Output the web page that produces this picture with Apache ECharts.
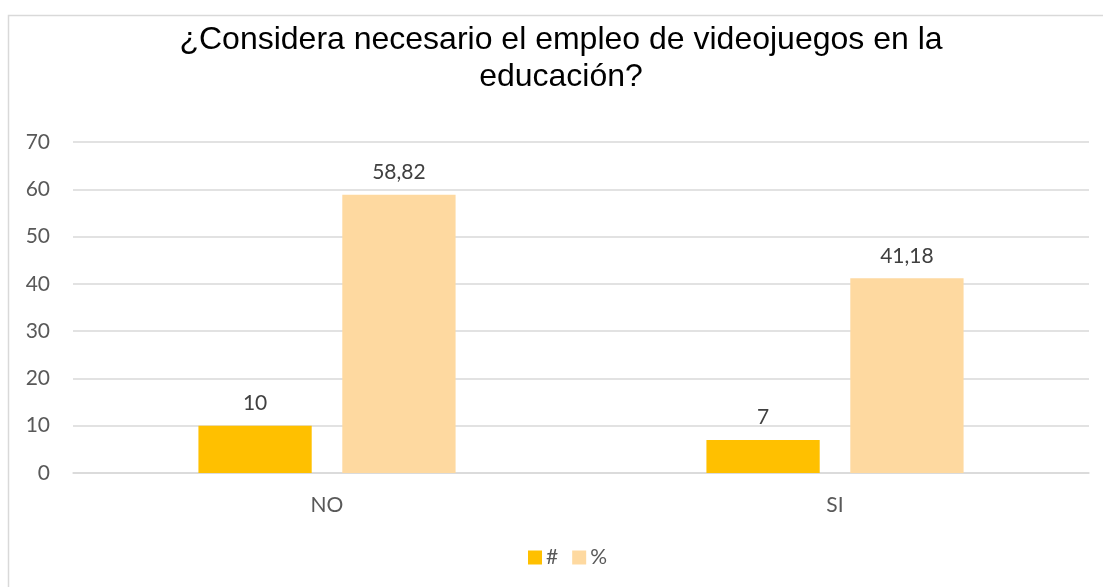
<!DOCTYPE html>
<html>
<head>
<meta charset="utf-8">
<script src="https://cdn.jsdelivr.net/npm/echarts@6/dist/echarts.min.js"></script>
<style>
  html, body { margin: 0; padding: 0; background: #ffffff; }
  #chart { width: 1103px; height: 587px; }
</style>
</head>
<body>
<div id="chart"></div>
<script>
// Survey answers: count (#) and share (%) per response
const categories = ['NO', 'SI'];
const countValues = [10, 7];
const percentValues = [58.82, 41.18];
const seriesNames = ['#', '%'];
const yTicks = { min: 0, max: 70, interval: 10 };
const titleText = '¿Considera necesario el empleo de videojuegos en la\neducación?';

const labelFont = 'Lato, "Open Sans", sans-serif';
const commaDecimal = v => String(v).replace('.', ',');

const chart = echarts.init(document.getElementById('chart'), null, { renderer: 'canvas' });

chart.setOption({
  backgroundColor: '#ffffff',
  animation: false,
  title: {
    text: titleText,
    left: 561,
    top: 22,
    padding: 0,
    textAlign: 'center',
    textStyle: {
      fontFamily: '"Liberation Sans", Arial, sans-serif',
      fontSize: 32,
      fontWeight: 'normal',
      color: '#000000',
      lineHeight: 37
    }
  },
  graphic: [{
    type: 'rect',
    silent: true,
    z: -10,
    shape: { x: 8.5, y: 15.5, width: 1200, height: 700 },
    style: { fill: 'none', stroke: '#d9d9d9', lineWidth: 1.5 }
  }],
  legend: {
    data: seriesNames,
    left: 528,
    top: 547,
    padding: 0,
    itemWidth: 14,
    itemHeight: 14,
    itemGap: 14,
    icon: 'rect',
    textStyle: { fontFamily: labelFont, fontSize: 21, color: '#595959', padding: [0, 0, 0, -1] }
  },
  grid: {
    left: 73,
    right: 14,
    top: 142,
    bottom: 114,
    containLabel: false,
    outerBoundsMode: 'none'
  },
  xAxis: {
    type: 'category',
    data: categories,
    axisTick: { show: false },
    axisLine: { lineStyle: { color: '#d9d9d9', width: 1.5 } },
    axisLabel: { fontFamily: labelFont, fontSize: 21, color: '#595959', margin: 22 }
  },
  yAxis: {
    type: 'value',
    min: yTicks.min,
    max: yTicks.max,
    interval: yTicks.interval,
    axisLine: { show: false },
    axisTick: { show: false },
    splitLine: { lineStyle: { color: '#d9d9d9', width: 1.5 } },
    axisLabel: { fontFamily: labelFont, fontSize: 21, color: '#595959', margin: 23 }
  },
  series: [
    {
      name: seriesNames[0],
      type: 'bar',
      data: countValues,
      barWidth: '22.3%',
      barGap: '27%',
      itemStyle: { color: '#ffc000' },
      label: {
        show: true,
        position: 'top',
        distance: 12,
        fontFamily: labelFont,
        fontSize: 21,
        color: '#404040',
        formatter: p => commaDecimal(p.value)
      }
    },
    {
      name: seriesNames[1],
      type: 'bar',
      data: percentValues,
      barWidth: '22.3%',
      barGap: '27%',
      itemStyle: { color: '#fed9a0' },
      label: {
        show: true,
        position: 'top',
        distance: 12,
        fontFamily: labelFont,
        fontSize: 21,
        color: '#404040',
        formatter: p => commaDecimal(p.value)
      }
    }
  ]
});
</script>
</body>
</html>
